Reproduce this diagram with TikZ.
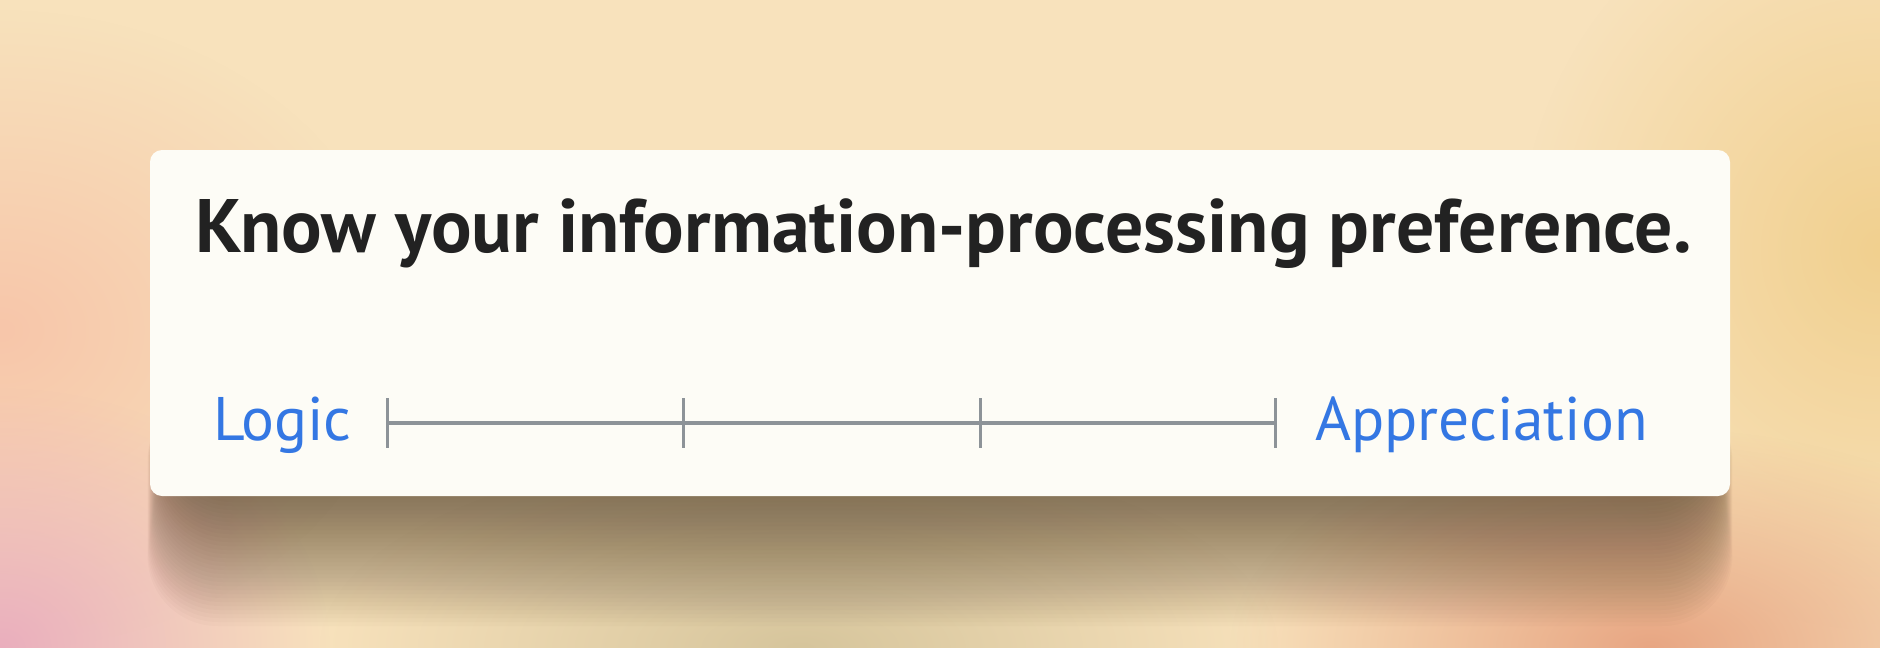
\documentclass[tikz,border=0pt]{standalone}
\usepackage{fontspec}
\setmainfont{PT Sans}
\usetikzlibrary{fadings}
\definecolor{bgbase}{HTML}{F8E2BC}
\definecolor{bgpink}{HTML}{EAAEBE}
\definecolor{bgpeach}{HTML}{F7C6AA}
\definecolor{bgorange}{HTML}{E8A683}
\definecolor{bgyellow}{HTML}{F1D08F}
\definecolor{bgbeige}{HTML}{D6C59C}
\definecolor{cardfill}{HTML}{FDFCF6}
\definecolor{titlecol}{HTML}{222222}
\definecolor{bluecol}{HTML}{3477E3}
\definecolor{scalecol}{HTML}{8D9398}
\definecolor{shadowcol}{HTML}{2A1A08}
\tikzfading[name=softblob, inner color=transparent!0, outer color=transparent!100]
\tikzset{
  blob/.style={path fading=softblob},
  titletext/.style={anchor=base west, inner sep=0pt, text=titlecol, font=\fontsize{75.7}{88}\selectfont\bfseries},
  endlabel/.style={anchor=base west, inner sep=0pt, text=bluecol, font=\fontsize{61.5}{72}\selectfont},
  scaleline/.style={draw=scalecol, line width=3.6pt},
  tickmark/.style={draw=scalecol, line width=3pt},
}
\begin{document}
\begin{tikzpicture}[x=1pt, y=-1pt]
\useasboundingbox (0,0) rectangle (1880,648);
% background
\fill[bgbase] (0,0) rectangle (1880,648);
\fill[bgpeach, blob] (0,330) ellipse (400 and 320);
\fill[bgpink, blob] (0,648) ellipse (330 and 260);
\fill[bgyellow, blob] (1880,250) ellipse (360 and 380);
\fill[bgorange, blob] (1650,648) ellipse (420 and 220);
\fill[bgbeige, blob] (800,648) ellipse (480 and 200);
% shadow
\foreach \e in {120,116,...,-40}{
  \fill[shadowcol, opacity=0.019, rounded corners=70pt] (162-\e*0.12,390) rectangle (1718+\e*0.12,496+10+\e);
}
% card
\node[draw=none, fill=cardfill, rounded corners=12pt, minimum width=1580pt, minimum height=346pt, inner sep=0pt] (card) at (940,323) {};
% title
\node[titletext] (title) at (195,252) {Know your information-processing preference.};
% scale
\coordinate (s0) at (387,423);
\coordinate (s1) at (683,423);
\coordinate (s2) at (980,423);
\coordinate (s3) at (1275,423);
\draw[scaleline] (s0) -- (s3);
\foreach \p in {s0,s1,s2,s3}{
  \draw[tickmark] ([yshift=25pt]\p) -- ([yshift=-25pt]\p);
}
\node[endlabel] (logic) at (213,440) {Logic};
\node[endlabel] (appr) at (1315,440) {Appreciation};
\end{tikzpicture}
\end{document}
